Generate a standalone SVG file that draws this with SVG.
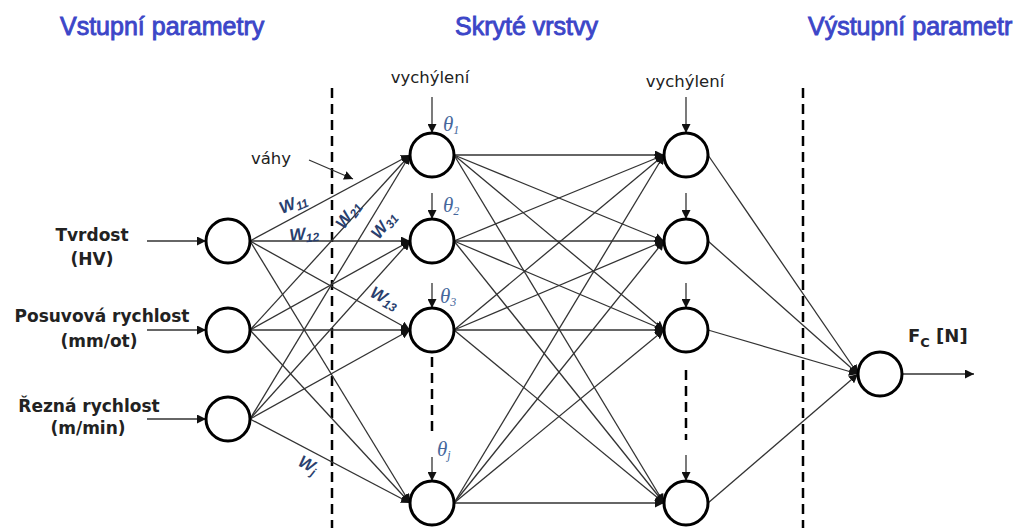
<svg xmlns="http://www.w3.org/2000/svg" width="1034" height="528" viewBox="0 0 1034 528">
<defs>
<marker id="ah" viewBox="0 0 10 10" refX="10" refY="5" markerWidth="9" markerHeight="9" markerUnits="userSpaceOnUse" orient="auto"><path d="M0,0 L10,5 L0,10 z" fill="#111"/></marker>
<style>
.hdr{font-family:"Liberation Sans",Arial,sans-serif;font-size:25px;fill:#3c46c8;stroke:#3c46c8;stroke-width:0.9}
.lbl{font-family:"DejaVu Sans",Verdana,sans-serif;font-size:17px;font-weight:bold;fill:#222;text-anchor:middle}
.sm{font-family:"DejaVu Sans",Verdana,sans-serif;font-size:16.5px;fill:#222;text-anchor:middle}
.w{font-family:"Liberation Sans",Arial,sans-serif;font-size:17px;font-weight:bold;font-style:italic;fill:#2a3f6e}
.th{font-family:"Liberation Serif","Times New Roman",serif;font-size:21px;font-style:italic;fill:#45679c}
.node{fill:#fff;stroke:#000;stroke-width:3}
.c line{stroke:#333;stroke-width:1.3;marker-end:url(#ah)}
.dash{stroke:#000;stroke-width:2.5;stroke-dasharray:10 6;fill:none}
</style>
</defs>
<rect width="1034" height="528" fill="#fff"/>
<text class="hdr" x="60" y="35">Vstupní parametry</text>
<text class="hdr" x="455" y="35">Skryté vrstvy</text>
<text class="hdr" x="808" y="35">Výstupní parametr</text>

<line class="dash" x1="332" y1="88" x2="332" y2="528"/>
<line class="dash" x1="803" y1="88" x2="803" y2="528"/>
<line class="dash" x1="432" y1="357" x2="432" y2="437"/>
<line class="dash" x1="686" y1="370" x2="686" y2="440"/>

<g class="c" id="connectors">
<line x1="250" y1="241" x2="410" y2="155"/><line x1="250" y1="241" x2="410" y2="241"/><line x1="250" y1="241" x2="410" y2="330"/><line x1="250" y1="241" x2="410" y2="503"/>
<line x1="250" y1="330" x2="410" y2="155"/><line x1="250" y1="330" x2="410" y2="241"/><line x1="250" y1="330" x2="410" y2="330"/><line x1="250" y1="330" x2="410" y2="503"/>
<line x1="250" y1="419" x2="410" y2="155"/><line x1="250" y1="419" x2="410" y2="241"/><line x1="250" y1="419" x2="410" y2="330"/><line x1="250" y1="419" x2="410" y2="503"/>
<line x1="454" y1="155" x2="664" y2="155"/><line x1="454" y1="155" x2="664" y2="241"/><line x1="454" y1="155" x2="664" y2="330"/><line x1="454" y1="155" x2="664" y2="503"/>
<line x1="454" y1="241" x2="664" y2="155"/><line x1="454" y1="241" x2="664" y2="241"/><line x1="454" y1="241" x2="664" y2="330"/><line x1="454" y1="241" x2="664" y2="503"/>
<line x1="454" y1="330" x2="664" y2="155"/><line x1="454" y1="330" x2="664" y2="241"/><line x1="454" y1="330" x2="664" y2="330"/><line x1="454" y1="330" x2="664" y2="503"/>
<line x1="454" y1="503" x2="664" y2="155"/><line x1="454" y1="503" x2="664" y2="241"/><line x1="454" y1="503" x2="664" y2="330"/><line x1="454" y1="503" x2="664" y2="503"/>
<line x1="708" y1="155" x2="858" y2="374"/><line x1="708" y1="241" x2="858" y2="374"/><line x1="708" y1="330" x2="858" y2="374"/><line x1="708" y1="503" x2="858" y2="374"/>
<line x1="147" y1="241" x2="206" y2="241"/><line x1="147" y1="330" x2="206" y2="330"/><line x1="147" y1="419" x2="206" y2="419"/>
<line x1="902" y1="374" x2="974" y2="374"/>
<line x1="432" y1="97" x2="432" y2="133"/><line x1="432" y1="193" x2="432" y2="219"/><line x1="432" y1="283" x2="432" y2="308"/><line x1="432" y1="457" x2="432" y2="481"/>
<line x1="686" y1="97" x2="686" y2="133"/><line x1="686" y1="193" x2="686" y2="219"/><line x1="686" y1="283" x2="686" y2="308"/><line x1="686" y1="455" x2="686" y2="481"/>
<line x1="309" y1="160" x2="353" y2="179"/>
</g>

<g id="in1"><circle class="node" cx="228" cy="241" r="22"/><text class="lbl" x="92" y="241">Tvrdost</text><text class="lbl" x="92" y="265">(HV)</text></g>
<g id="in2"><circle class="node" cx="228" cy="330" r="22"/><text class="lbl" x="102" y="322">Posuvová rychlost</text><text class="lbl" x="99" y="347">(mm/ot)</text></g>
<g id="in3"><circle class="node" cx="228" cy="419" r="22"/><text class="lbl" x="89" y="412">Řezná rychlost</text><text class="lbl" x="88" y="434">(m/min)</text></g>

<g id="h1_1"><circle class="node" cx="432" cy="155" r="22"/><text class="sm" x="430" y="83">vychýlení</text><text class="th" x="443" y="131">θ<tspan font-size="12" dy="3">1</tspan></text></g>
<g id="h1_2"><circle class="node" cx="432" cy="241" r="22"/><text class="th" x="443" y="212">θ<tspan font-size="12" dy="3">2</tspan></text></g>
<g id="h1_3"><circle class="node" cx="432" cy="330" r="22"/><text class="th" x="440" y="303">θ<tspan font-size="12" dy="3">3</tspan></text></g>
<g id="h1_j"><circle class="node" cx="432" cy="503" r="22"/><text class="th" x="437" y="456">θ<tspan font-size="12" dy="3">j</tspan></text></g>

<g id="h2_1"><circle class="node" cx="686" cy="155" r="22"/><text class="sm" x="685" y="87">vychýlení</text></g>
<g id="h2_2"><circle class="node" cx="686" cy="241" r="22"/></g>
<g id="h2_3"><circle class="node" cx="686" cy="330" r="22"/></g>
<g id="h2_j"><circle class="node" cx="686" cy="503" r="22"/></g>

<g id="out"><circle class="node" cx="880" cy="374" r="22"/><text font-family="DejaVu Sans,Verdana,sans-serif" font-weight="bold" font-size="18" fill="#222" x="908" y="342">F<tspan font-size="13" dy="5">C</tspan><tspan dy="-5"> [N]</tspan></text></g>

<g id="weights">
<text class="sm" x="271" y="164">váhy</text>
<text class="w" transform="translate(282,214) rotate(-22)">W<tspan font-size="12" dy="3">11</tspan></text>
<text class="w" transform="translate(290,241) rotate(-6)">W<tspan font-size="12" dy="3">12</tspan></text>
<text class="w" transform="translate(344,230) rotate(-55)">W<tspan font-size="12" dy="3">21</tspan></text>
<text class="w" transform="translate(379,240) rotate(-52)">W<tspan font-size="12" dy="3">31</tspan></text>
<text class="w" transform="translate(369,296) rotate(28)">W<tspan font-size="12" dy="3">13</tspan></text>
<text class="w" transform="translate(297,465) rotate(28)">W<tspan font-size="12" dy="3">j</tspan></text>
</g>
</svg>
